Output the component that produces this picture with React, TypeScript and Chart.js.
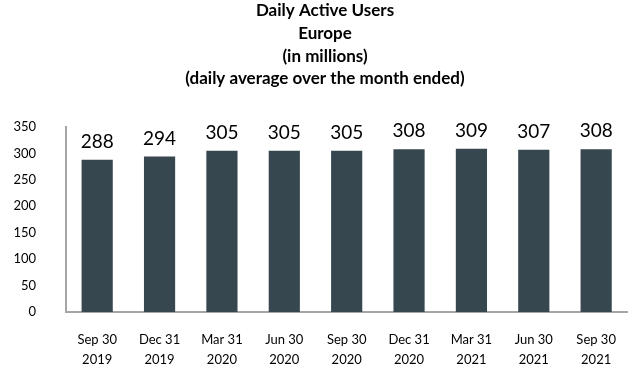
import React, { useEffect, useRef } from "react";
import { Chart, registerables } from "chart.js";

Chart.register(...registerables);

const titleLines = [
  "Daily Active Users",
  "Europe",
  "(in millions)",
  "(daily average over the month ended)",
];
const categories: string[][] = [
  ["Sep 30", "2019"],
  ["Dec 31", "2019"],
  ["Mar 31", "2020"],
  ["Jun 30", "2020"],
  ["Sep 30", "2020"],
  ["Dec 31", "2020"],
  ["Mar 31", "2021"],
  ["Jun 30", "2021"],
  ["Sep 30", "2021"],
];
const dauEurope = [288, 294, 305, 305, 305, 308, 309, 307, 308];
const yMax = 350;
const yStep = 50;

const FONT = "Lato, 'Open Sans', 'Liberation Sans', sans-serif";
const BAR_COLOR = "#36474f";
const AXIS_COLOR = "#a6a6a6";

const titlePlugin = {
  id: "multiTitle",
  afterDraw(chart: any) {
    const ctx = chart.ctx;
    ctx.save();
    ctx.font = `bold 17px ${FONT}`;
    ctx.fillStyle = "#000";
    ctx.textAlign = "center";
    ctx.textBaseline = "middle";
    titleLines.forEach((line, i) => {
      ctx.fillText(line, 325, 11 + i * 22.6);
    });
    ctx.restore();
  },
};

const valueLabels = {
  id: "valueLabels",
  afterDatasetsDraw(chart: any) {
    const ctx = chart.ctx;
    const meta = chart.getDatasetMeta(0);
    const data = chart.data.datasets[0].data as number[];
    ctx.save();
    ctx.font = `19px ${FONT}`;
    ctx.fillStyle = "#000";
    ctx.textAlign = "center";
    ctx.textBaseline = "alphabetic";
    meta.data.forEach((bar: any, i: number) => {
      ctx.fillText(String(data[i]), bar.x, bar.y - 12);
    });
    ctx.restore();
  },
};

export default function App() {
  const ref = useRef<HTMLCanvasElement | null>(null);
  useEffect(() => {
    if (!ref.current) return;
    const chart = new Chart(ref.current, {
      type: "bar",
      data: {
        labels: categories,
        datasets: [
          {
            data: dauEurope,
            backgroundColor: BAR_COLOR,
            barPercentage: 0.5,
            categoryPercentage: 1,
          },
        ],
      },
      options: {
        responsive: false,
        animation: false,
        devicePixelRatio: 1,
        layout: { padding: { left: 0, right: 1, top: 127, bottom: 0 } },
        plugins: {
          legend: { display: false },
          tooltip: { enabled: false },
          title: { display: false },
        },
        scales: {
          x: {
            grid: { display: false, drawTicks: false },
            border: { display: true, color: AXIS_COLOR, width: 2 },
            ticks: {
              color: "#000",
              font: { family: FONT, size: 13, lineHeight: 1.55 },
              padding: 18,
              maxRotation: 0,
              autoSkip: false,
            },
            afterFit(scale: any) {
              scale.height = 54;
            },
          },
          y: {
            min: 0,
            max: yMax,
            grid: { display: false, drawTicks: false },
            border: { display: true, color: AXIS_COLOR, width: 2 },
            ticks: {
              stepSize: yStep,
              color: "#000",
              font: { family: FONT, size: 13 },
              padding: 30,
            },
            afterFit(scale: any) {
              scale.width = 66;
            },
          },
        },
      },
      plugins: [valueLabels, titlePlugin],
    });
    return () => chart.destroy();
  }, []);
  return (
    <div style={{ position: "fixed", left: 0, top: 0, width: 634, height: 366, background: "#fff" }}>
      <canvas ref={ref} width={634} height={366} />
    </div>
  );
}
